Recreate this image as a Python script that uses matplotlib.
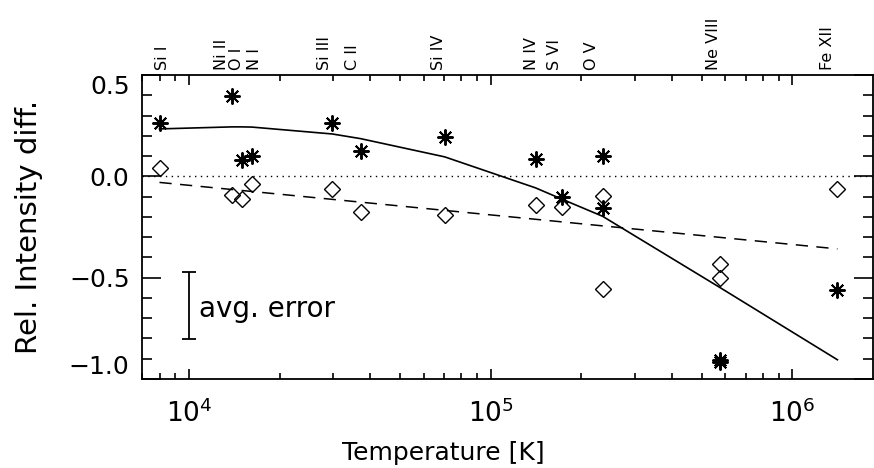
import matplotlib
matplotlib.use("Agg")
import matplotlib.pyplot as plt
from matplotlib.ticker import LogLocator, MultipleLocator, NullFormatter
import matplotlib.transforms as mtransforms

plt.rcParams["font.family"] = ["DejaVu Sans"]
plt.rcParams["mathtext.fontset"] = "dejavusans"

# one entry per observed line (O V and Ne VIII have two lines each)
line_temp = [8.0e3, 1.39e4, 1.50e4, 1.62e4, 2.99e4, 3.71e4, 7.05e4,
             1.41e5, 1.72e5, 2.35e5, 2.35e5, 5.76e5, 5.76e5, 1.41e6]
star_diff = [0.264, 0.395, 0.082, 0.099, 0.264, 0.123, 0.193,
             0.087, -0.104, 0.099, -0.156, -0.905, -0.918, -0.563]
diamond_diff = [0.041, -0.090, -0.110, -0.038, -0.061, -0.178, -0.192,
                -0.141, -0.151, -0.099, -0.556, -0.432, -0.501, -0.062]

# solid curve, one vertex per ion
ion_temp = [8.0e3, 1.39e4, 1.50e4, 1.62e4, 2.99e4, 3.71e4, 7.05e4,
            1.41e5, 1.72e5, 2.35e5, 5.76e5, 1.41e6]
curve_diff = [0.234, 0.244, 0.244, 0.243, 0.209, 0.186, 0.096,
              -0.057, -0.112, -0.197, -0.549, -0.905]

# dashed linear trend, end points
trend_temp = [8.0e3, 1.41e6]
trend_diff = [-0.030, -0.358]

# ion names on the top axis
ion_names = ["Si I", "Ni II", "O I", "N I", "Si III", "C II", "Si IV",
             "N IV", "S VI", "O V", "Ne VIII", "Fe XII"]
ion_label_temp = [8.2e3, 1.28e4, 1.44e4, 1.65e4, 2.82e4, 3.50e4, 6.70e4,
                  1.37e5, 1.63e5, 2.16e5, 5.47e5, 1.31e6]

# average error bar
err_temp = 1.0e4
err_center = -0.637
err_half = 0.164

y_ticks = [0.5, 0.0, -0.5, -1.0]
y_tick_labels = ["0.5", "0.0", "\u22120.5", "\u22121.0"]

fig = plt.figure(figsize=(8.74, 4.68), dpi=100, facecolor="white")
ax = fig.add_axes([142 / 874, 1 - 379 / 468, 731 / 874, 304 / 468])
ax.set_xscale("log")
ax.set_xlim(7.0e3, 1.85e6)
ax.set_ylim(-1.0, 0.5)

ax.axhline(0.0, color="black", lw=1.0, ls=(0, (1, 3.2)), zorder=1)
ax.plot(trend_temp, trend_diff, color="black", lw=1.1, dashes=(8, 5.5), zorder=2)
ax.plot(ion_temp, curve_diff, color="black", lw=1.2, zorder=2)

ax.plot(line_temp, star_diff, ls="none", marker=(8, 2, 0), ms=11.5,
        mec="black", mew=1.4, zorder=3)
ax.plot(line_temp, diamond_diff, ls="none", marker="D", ms=8.5,
        mfc="none", mec="black", mew=1.0, zorder=3)

ax.errorbar([err_temp], [err_center], yerr=[err_half], color="black",
            lw=1.3, capsize=5, capthick=1.3, zorder=3)
ax.text(1.085e4, err_center - 0.02, "avg. error", fontsize=20,
        ha="left", va="center")

trans = mtransforms.blended_transform_factory(ax.transData, ax.transAxes)
for name, temp in zip(ion_names, ion_label_temp):
    ax.text(temp, 1.018, name, transform=trans, rotation=90, fontsize=11.5,
            ha="center", va="bottom")

for side in ax.spines.values():
    side.set_linewidth(1.3)

ax.xaxis.set_major_locator(LogLocator(base=10))
ax.xaxis.set_minor_locator(LogLocator(base=10, subs=range(2, 10)))
ax.xaxis.set_minor_formatter(NullFormatter())
ax.yaxis.set_minor_locator(MultipleLocator(0.1))
ax.set_yticks(y_ticks)
ax.set_yticklabels(y_tick_labels)
ylabels = ax.get_yticklabels()
ylabels[0].set_va("top")
ylabels[-1].set_va("bottom")

ax.tick_params(axis="both", which="both", direction="in", top=True, right=True,
               width=1.2)
ax.tick_params(axis="x", which="major", length=7, pad=15, labelsize=19)
ax.tick_params(axis="x", which="minor", length=4)
ax.tick_params(axis="y", which="major", length=14, pad=9, labelsize=18)
ax.tick_params(axis="y", which="minor", length=7)

ax.set_xlabel("Temperature [K]", fontsize=18)
ax.xaxis.set_label_coords(0.412, -0.205)
ax.set_ylabel("Rel. Intensity diff.", fontsize=21)
ax.yaxis.set_label_coords(-0.135, 0.5)

fig.savefig("out.png", dpi=100)
